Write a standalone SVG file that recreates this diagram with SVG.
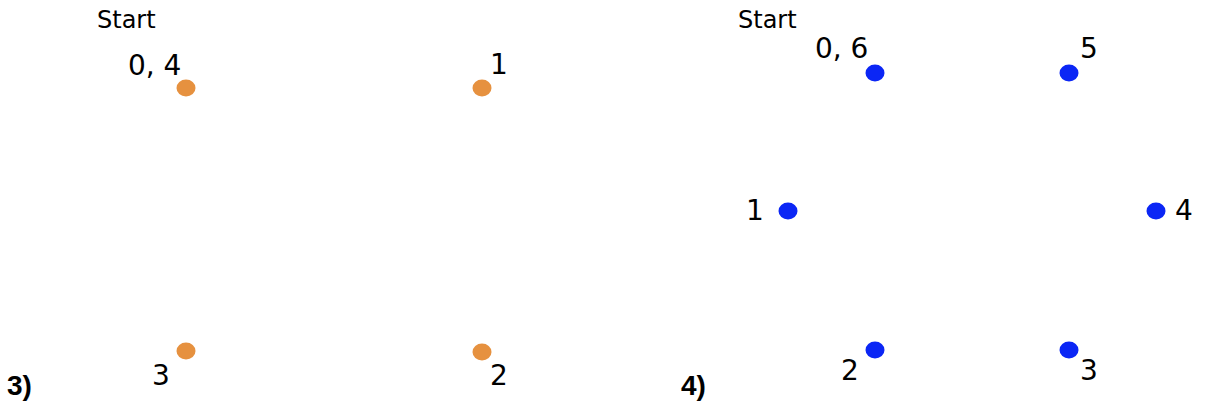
<svg xmlns="http://www.w3.org/2000/svg" width="1207" height="406" viewBox="0 0 1207 406">
<style>
.t{font-family:"DejaVu Sans","Liberation Sans",sans-serif;fill:#000}
.s{font-size:24px}
.n{font-size:28px}
.p{font-family:"Liberation Sans",Arial,sans-serif;font-weight:bold;font-size:28px}
.o{fill:#E6913F}
.b{fill:#0B26F5}
</style>
<rect width="1207" height="406" fill="#fff"/>
<g id="panel3">
<text class="t s" x="97" y="28">Start</text>
<text class="p" x="7" y="395">3)</text>
<g id="n3-0"><ellipse class="o" cx="186" cy="88" rx="9.5" ry="8.5"/><text class="t n" x="128" y="75">0, 4</text></g>
<g id="n3-1"><ellipse class="o" cx="482" cy="88" rx="9.5" ry="8.5"/><text class="t n" x="490" y="74">1</text></g>
<g id="n3-2"><ellipse class="o" cx="482" cy="352" rx="9.5" ry="8.5"/><text class="t n" x="490" y="385">2</text></g>
<g id="n3-3"><ellipse class="o" cx="186" cy="351" rx="9.5" ry="8.5"/><text class="t n" x="152" y="385">3</text></g>
</g>
<g id="panel4">
<text class="t s" x="738" y="28">Start</text>
<text class="p" x="681" y="395">4)</text>
<g id="n4-0"><ellipse class="b" cx="875" cy="73" rx="9.5" ry="8.5"/><text class="t n" x="815" y="58">0, 6</text></g>
<g id="n4-1"><ellipse class="b" cx="788" cy="211" rx="9.5" ry="8.5"/><text class="t n" x="746" y="220">1</text></g>
<g id="n4-2"><ellipse class="b" cx="875" cy="350" rx="9.5" ry="8.5"/><text class="t n" x="841" y="380">2</text></g>
<g id="n4-3"><ellipse class="b" cx="1069" cy="350" rx="9.5" ry="8.5"/><text class="t n" x="1080" y="380">3</text></g>
<g id="n4-4"><ellipse class="b" cx="1156" cy="211" rx="9.5" ry="8.5"/><text class="t n" x="1175" y="220">4</text></g>
<g id="n4-5"><ellipse class="b" cx="1069" cy="73" rx="9.5" ry="8.5"/><text class="t n" x="1080" y="58">5</text></g>
</g>
<g id="connectors"/>
</svg>
